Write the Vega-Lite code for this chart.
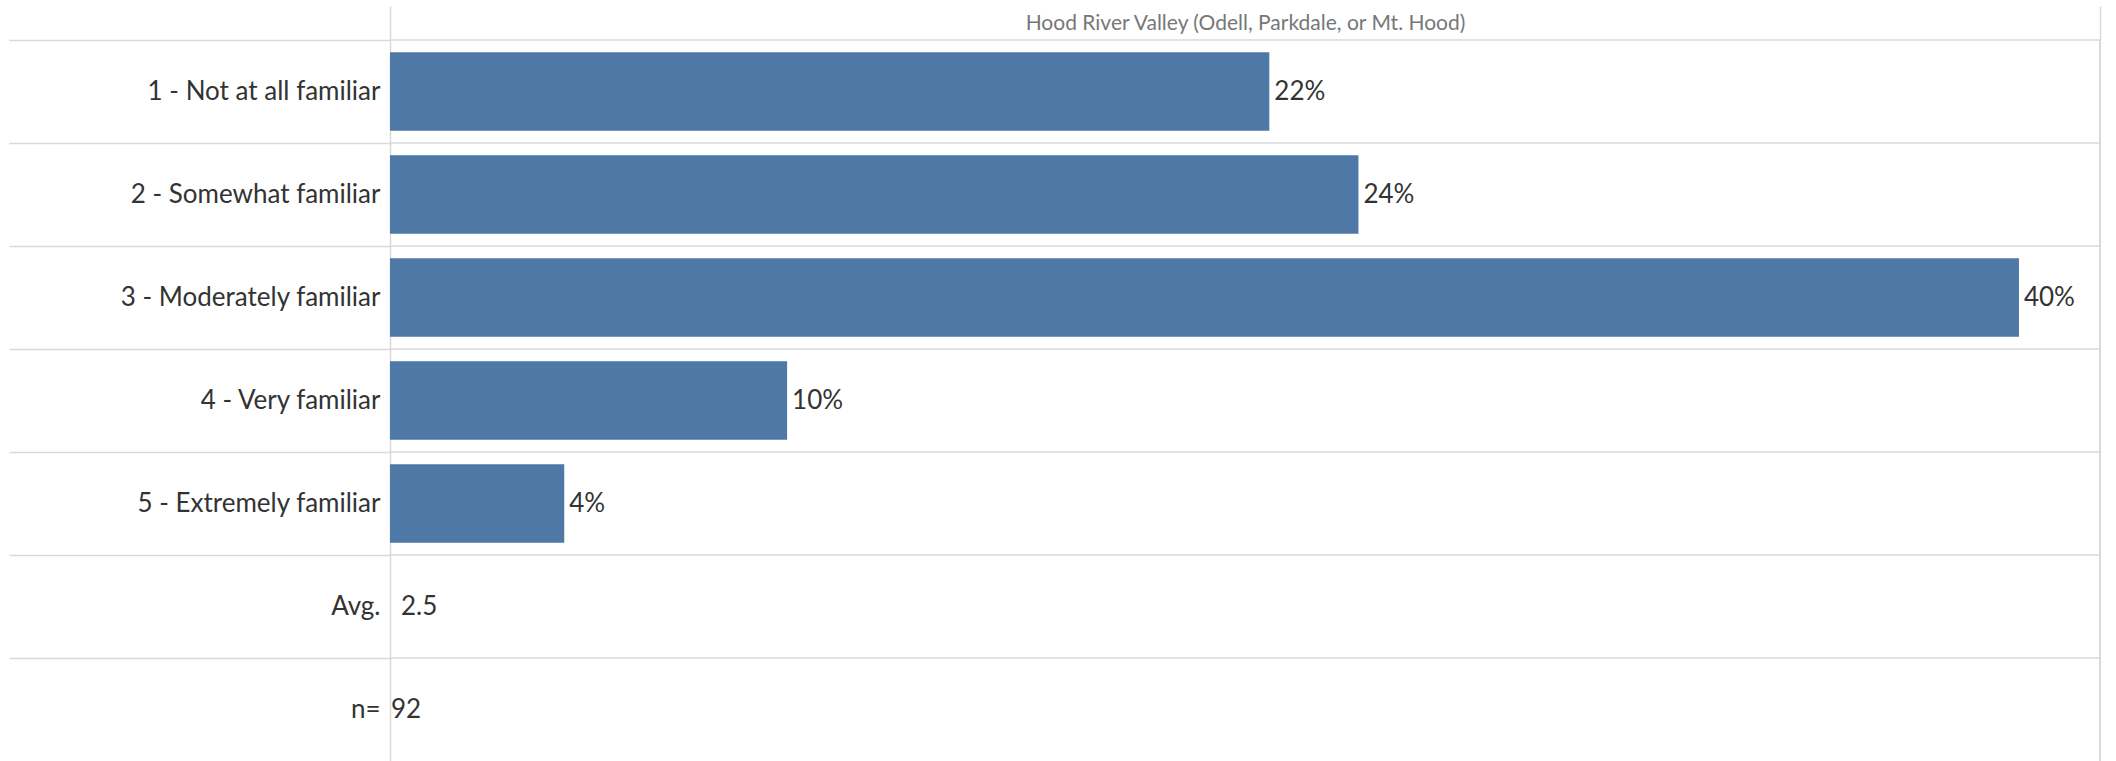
{
  "$schema": "https://vega.github.io/schema/vega-lite/v6.json",
  "width": 1710,
  "height": 721,
  "autosize": "none",
  "padding": {"left": 390, "top": 40, "right": 16, "bottom": 0},
  "background": "white",
  "config": {"view": {"stroke": null}, "font": "Lato"},
  "data": {"values": [
    {"row": "1 - Not at all familiar", "pct": 0.217, "kind": "bar"},
    {"row": "2 - Somewhat familiar", "pct": 0.239, "kind": "bar"},
    {"row": "3 - Moderately familiar", "pct": 0.402, "kind": "bar"},
    {"row": "4 - Very familiar", "pct": 0.098, "kind": "bar"},
    {"row": "5 - Extremely familiar", "pct": 0.043, "kind": "bar"},
    {"row": "Avg.\u00a0", "stat": "2.5", "kind": "avg"},
    {"row": "n=", "stat": "92", "kind": "n"}
  ]},
  "layer": [
    {
      "mark": {"type": "rule", "color": "#d9d9d9", "strokeWidth": 1.5},
      "encoding": {
        "y": {
          "field": "row", "type": "nominal", "sort": null, "bandPosition": 0,
          "scale": {"domain": ["1 - Not at all familiar", "2 - Somewhat familiar", "3 - Moderately familiar", "4 - Very familiar", "5 - Extremely familiar", "Avg.\u00a0", "n="], "paddingInner": 0, "paddingOuter": 0},
          "axis": {
            "title": null, "orient": "left",
            "domain": true, "domainColor": "#d9d9d9", "domainWidth": 1.5,
            "grid": false,
            "bandPosition": 0,
            "ticks": true, "tickSize": 381, "tickColor": "#d9d9d9", "tickWidth": 1.5,
            "labelPadding": -371, "labelLimit": 400,
            "labelFontSize": 26, "labelColor": "#333333", "labelFont": "Lato", "labelBaseline": "middle"
          }
        }
      }
    },
    {
      "transform": [{"filter": "datum.kind === 'bar'"}],
      "mark": {"type": "bar", "color": "#4e79a7", "height": {"band": 0.76}},
      "encoding": {
        "y": {"field": "row", "type": "nominal", "sort": null},
        "x": {
          "field": "pct", "type": "quantitative",
          "scale": {"domain": [0, 0.422], "nice": false, "zero": true},
          "axis": {
            "orient": "top", "values": [0, 0.422], "labels": false, "domain": false, "grid": false,
            "ticks": true, "tickSize": 34, "tickColor": "#d9d9d9", "tickWidth": 1.5,
            "title": "Hood River Valley (Odell, Parkdale, or Mt. Hood)",
            "titleFontSize": 21, "titleColor": "#777777", "titleFontWeight": "normal", "titleFont": "Lato",
            "titleY": -17, "titleBaseline": "middle", "titlePadding": 0
          }
        }
      }
    },
    {
      "transform": [{"filter": "datum.kind === 'bar'"}],
      "mark": {"type": "text", "align": "left", "baseline": "middle", "dx": 5, "fontSize": 26, "color": "#333333"},
      "encoding": {
        "y": {"field": "row", "type": "nominal", "sort": null},
        "x": {"field": "pct", "type": "quantitative"},
        "text": {"field": "pct", "type": "quantitative", "format": ".0%"}
      }
    },
    {
      "transform": [{"filter": "datum.kind === 'avg'"}],
      "mark": {"type": "text", "align": "left", "baseline": "middle", "dx": 11, "fontSize": 26, "color": "#333333"},
      "encoding": {
        "y": {"field": "row", "type": "nominal", "sort": null},
        "x": {"datum": 0},
        "text": {"field": "stat", "type": "nominal"}
      }
    },
    {
      "transform": [{"filter": "datum.kind === 'n'"}],
      "mark": {"type": "text", "align": "left", "baseline": "middle", "dx": 1, "fontSize": 26, "color": "#333333"},
      "encoding": {
        "y": {"field": "row", "type": "nominal", "sort": null},
        "x": {"datum": 0},
        "text": {"field": "stat", "type": "nominal"}
      }
    },
    {
      "mark": {"type": "rule", "color": "#d9d9d9", "strokeWidth": 1.5},
      "encoding": {"x": {"datum": 0.422}}
    }
  ]
}
